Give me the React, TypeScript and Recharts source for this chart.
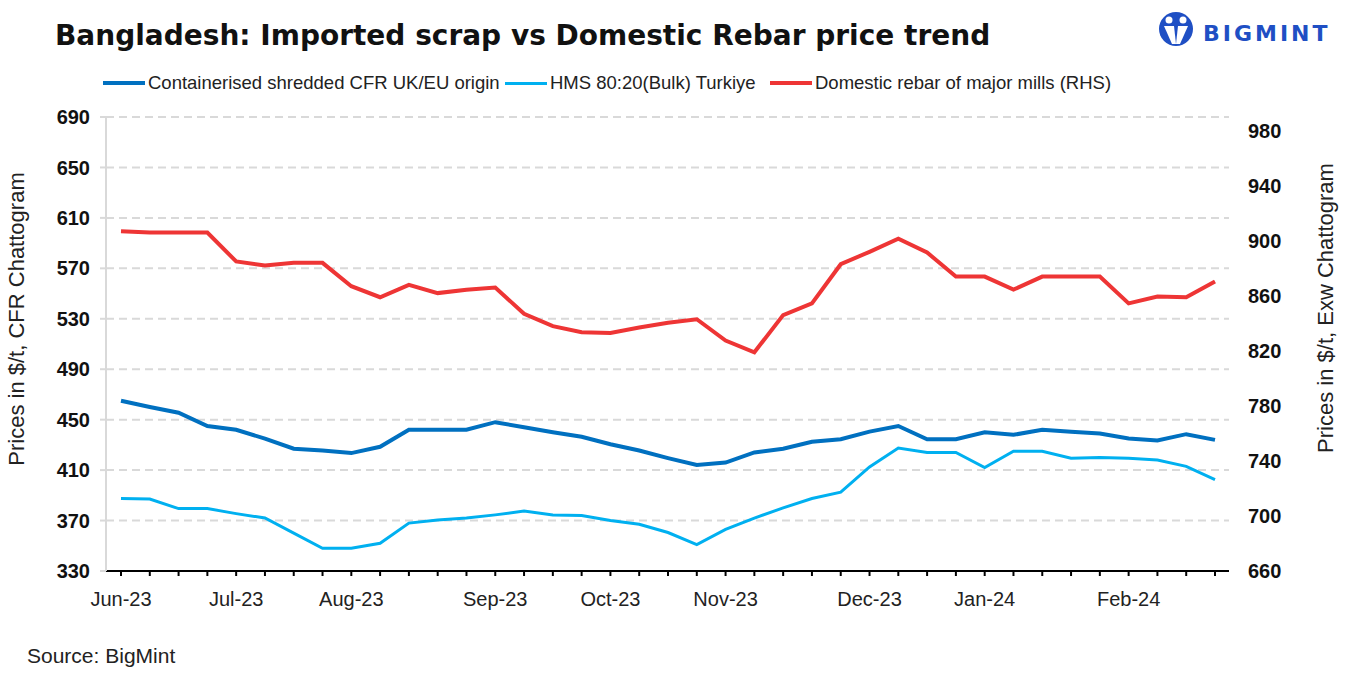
import React from 'react';
import { LineChart, Line, XAxis, YAxis, CartesianGrid } from 'recharts';

const weeks = [
  '01-Jun-23', '08-Jun-23', '15-Jun-23', '22-Jun-23', '29-Jun-23',
  '06-Jul-23', '13-Jul-23', '20-Jul-23', '27-Jul-23',
  '03-Aug-23', '10-Aug-23', '17-Aug-23', '24-Aug-23', '31-Aug-23',
  '07-Sep-23', '14-Sep-23', '21-Sep-23', '28-Sep-23',
  '05-Oct-23', '12-Oct-23', '19-Oct-23', '26-Oct-23',
  '02-Nov-23', '09-Nov-23', '16-Nov-23', '23-Nov-23', '30-Nov-23',
  '07-Dec-23', '14-Dec-23', '21-Dec-23', '28-Dec-23',
  '04-Jan-24', '11-Jan-24', '18-Jan-24', '25-Jan-24',
  '01-Feb-24', '08-Feb-24', '15-Feb-24', '22-Feb-24',
];

const monthTickWeeks = ['01-Jun-23', '29-Jun-23', '27-Jul-23', '31-Aug-23', '28-Sep-23', '26-Oct-23', '30-Nov-23', '28-Dec-23', '01-Feb-24'];
const monthTickLabels = ['Jun-23', 'Jul-23', 'Aug-23', 'Sep-23', 'Oct-23', 'Nov-23', 'Dec-23', 'Jan-24', 'Feb-24'];

const shredded = [465, 460, 455.5, 445, 442, 435, 427, 425.5, 423.5, 428.5, 442, 442, 442, 448, 444, 440, 436.5, 430.5, 425.5, 419.5, 414, 416, 424, 427, 432.5, 434.5, 440.5, 445, 434.5, 434.5, 440, 438, 442, 440.5, 439, 435, 433.5, 438.5, 434];
const hms = [387.5, 387, 379.5, 379.5, 375.5, 372, 360, 348, 348, 352, 368, 370.5, 372, 374.5, 377.5, 374.5, 374, 370, 367, 360.5, 351, 363, 372, 380, 387.5, 392.5, 412.5, 427.5, 424, 424, 412, 425, 425, 419.5, 420, 419.5, 418, 413, 402.5];
const rebar = [907, 906, 906, 906, 885, 882, 884, 884, 867, 859, 868, 862, 864.5, 866, 847, 838, 833.5, 833, 837, 840.5, 843, 827.5, 819, 846, 854.5, 883, 892, 901.5, 891.5, 874, 874, 864.5, 874, 874, 874, 854.5, 859.5, 859, 870.5];

const leftTicks = [330, 370, 410, 450, 490, 530, 570, 610, 650, 690];
const rightTicks = [660, 700, 740, 780, 820, 860, 900, 940, 980];

const seriesNames = ['Containerised shredded CFR UK/EU origin', 'HMS 80:20(Bulk) Turkiye', 'Domestic rebar of major mills (RHS)'];
const seriesColors = ['#0070C0', '#00B0F0', '#EE3535'];

const data = weeks.map((w, i) => ({ week: w, shredded: shredded[i], hms: hms[i], rebar: rebar[i] }));

const FONT = '"Liberation Sans", Arial, sans-serif';

const XTick = (props: any) => {
  const { x, y, payload } = props;
  const idx = monthTickWeeks.indexOf(payload.value);
  if (idx < 0) return null;
  return (
    <text x={x} y={y + 28} textAnchor="middle" fontFamily={FONT} fontSize={20} fill="#222">
      {monthTickLabels[idx]}
    </text>
  );
};

const legendX = [103, 505, 770];

export default function App() {
  return (
    <div style={{ position: 'absolute', left: 0, top: 0, width: 1350, height: 675, background: '#fff' }}>
      <LineChart width={1350} height={675} data={data} margin={{ top: 117, right: 56, bottom: 0, left: 56 }}>
        <CartesianGrid yAxisId="left" vertical={false} stroke="#d9d9d9" strokeWidth={2} strokeDasharray="8 5" />
        <XAxis
          dataKey="week"
          interval={0}
          tick={<XTick />}
          tickLine={{ stroke: '#000', strokeWidth: 2 }}
          tickSize={5}
          axisLine={{ stroke: '#000', strokeWidth: 2 }}
          padding={{ left: 15, right: 14 }}
          height={104}
        />
        <YAxis
          yAxisId="left"
          domain={[330, 690]}
          ticks={leftTicks}
          interval={0}
          width={50}
          tickSize={6}
          tickMargin={10}
          axisLine={{ stroke: '#d9d9d9', strokeWidth: 2 }}
          tickLine={{ stroke: '#d9d9d9', strokeWidth: 2 }}
          tick={{ fontFamily: FONT, fontSize: 20, fontWeight: 700, fill: '#111' }}
        />
        <YAxis
          yAxisId="right"
          orientation="right"
          domain={[660, 990]}
          ticks={rightTicks}
          interval={0}
          width={65}
          tickSize={0}
          tickMargin={19}
          axisLine={false}
          tickLine={false}
          tick={{ fontFamily: FONT, fontSize: 20, fontWeight: 700, fill: '#111', textAnchor: 'start' }}
        />
        <Line yAxisId="left" type="linear" dataKey="shredded" name={seriesNames[0]} stroke={seriesColors[0]} strokeWidth={4} dot={false} isAnimationActive={false} />
        <Line yAxisId="left" type="linear" dataKey="hms" name={seriesNames[1]} stroke={seriesColors[1]} strokeWidth={3} dot={false} isAnimationActive={false} />
        <Line yAxisId="right" type="linear" dataKey="rebar" name={seriesNames[2]} stroke={seriesColors[2]} strokeWidth={4} dot={false} isAnimationActive={false} />
      </LineChart>
      <div style={{ position: 'absolute', left: 0, top: 71, width: 1350, height: 24 }}>
        {seriesNames.map((n, i) => (
          <div key={n} style={{ position: 'absolute', left: legendX[i], top: 0, display: 'flex', alignItems: 'center', height: 24 }}>
            <div style={{ width: 42, height: i === 1 ? 3 : 4, background: seriesColors[i], marginRight: 3 }} />
            <span style={{ fontFamily: FONT, fontSize: 18.5, color: '#222', whiteSpace: 'nowrap' }}>{n}</span>
          </div>
        ))}
      </div>
      <svg width={1350} height={675} style={{ position: 'absolute', left: 0, top: 0, pointerEvents: 'none' }}>
        <text x={55} y={45} fontFamily='"DejaVu Sans", sans-serif' fontWeight={700} fontSize={28} fill="#111">
          Bangladesh: Imported scrap vs Domestic Rebar price trend
        </text>
        <text transform="translate(24,319) rotate(-90)" textAnchor="middle" fontFamily={FONT} fontSize={22} fill="#222">
          Prices in $/t, CFR Chattogram
        </text>
        <text transform="translate(1333,308) rotate(-90)" textAnchor="middle" fontFamily={FONT} fontSize={22} fill="#222">
          Prices in $/t, Exw Chattogram
        </text>
        <text x={27} y={663} fontFamily={FONT} fontSize={21} fill="#222">Source: BigMint</text>
        <g>
          <circle cx={1176} cy={29} r={17} fill="#1F4FC4" />
          <circle cx={1169} cy={20} r={3.5} fill="#fff" />
          <circle cx={1183} cy={20} r={3.5} fill="#fff" />
          <path d="M1164 26 L1174 26 L1176 44 L1172 44 Z" fill="#fff" />
          <path d="M1188 26 L1178 26 L1176 44 L1180 44 Z" fill="#fff" />
          <text x={1203} y={41} fontFamily='"DejaVu Sans", sans-serif' fontWeight={700} fontSize={22} letterSpacing={3} fill="#1F4FC4">BIGMINT</text>
        </g>
      </svg>
    </div>
  );
}
